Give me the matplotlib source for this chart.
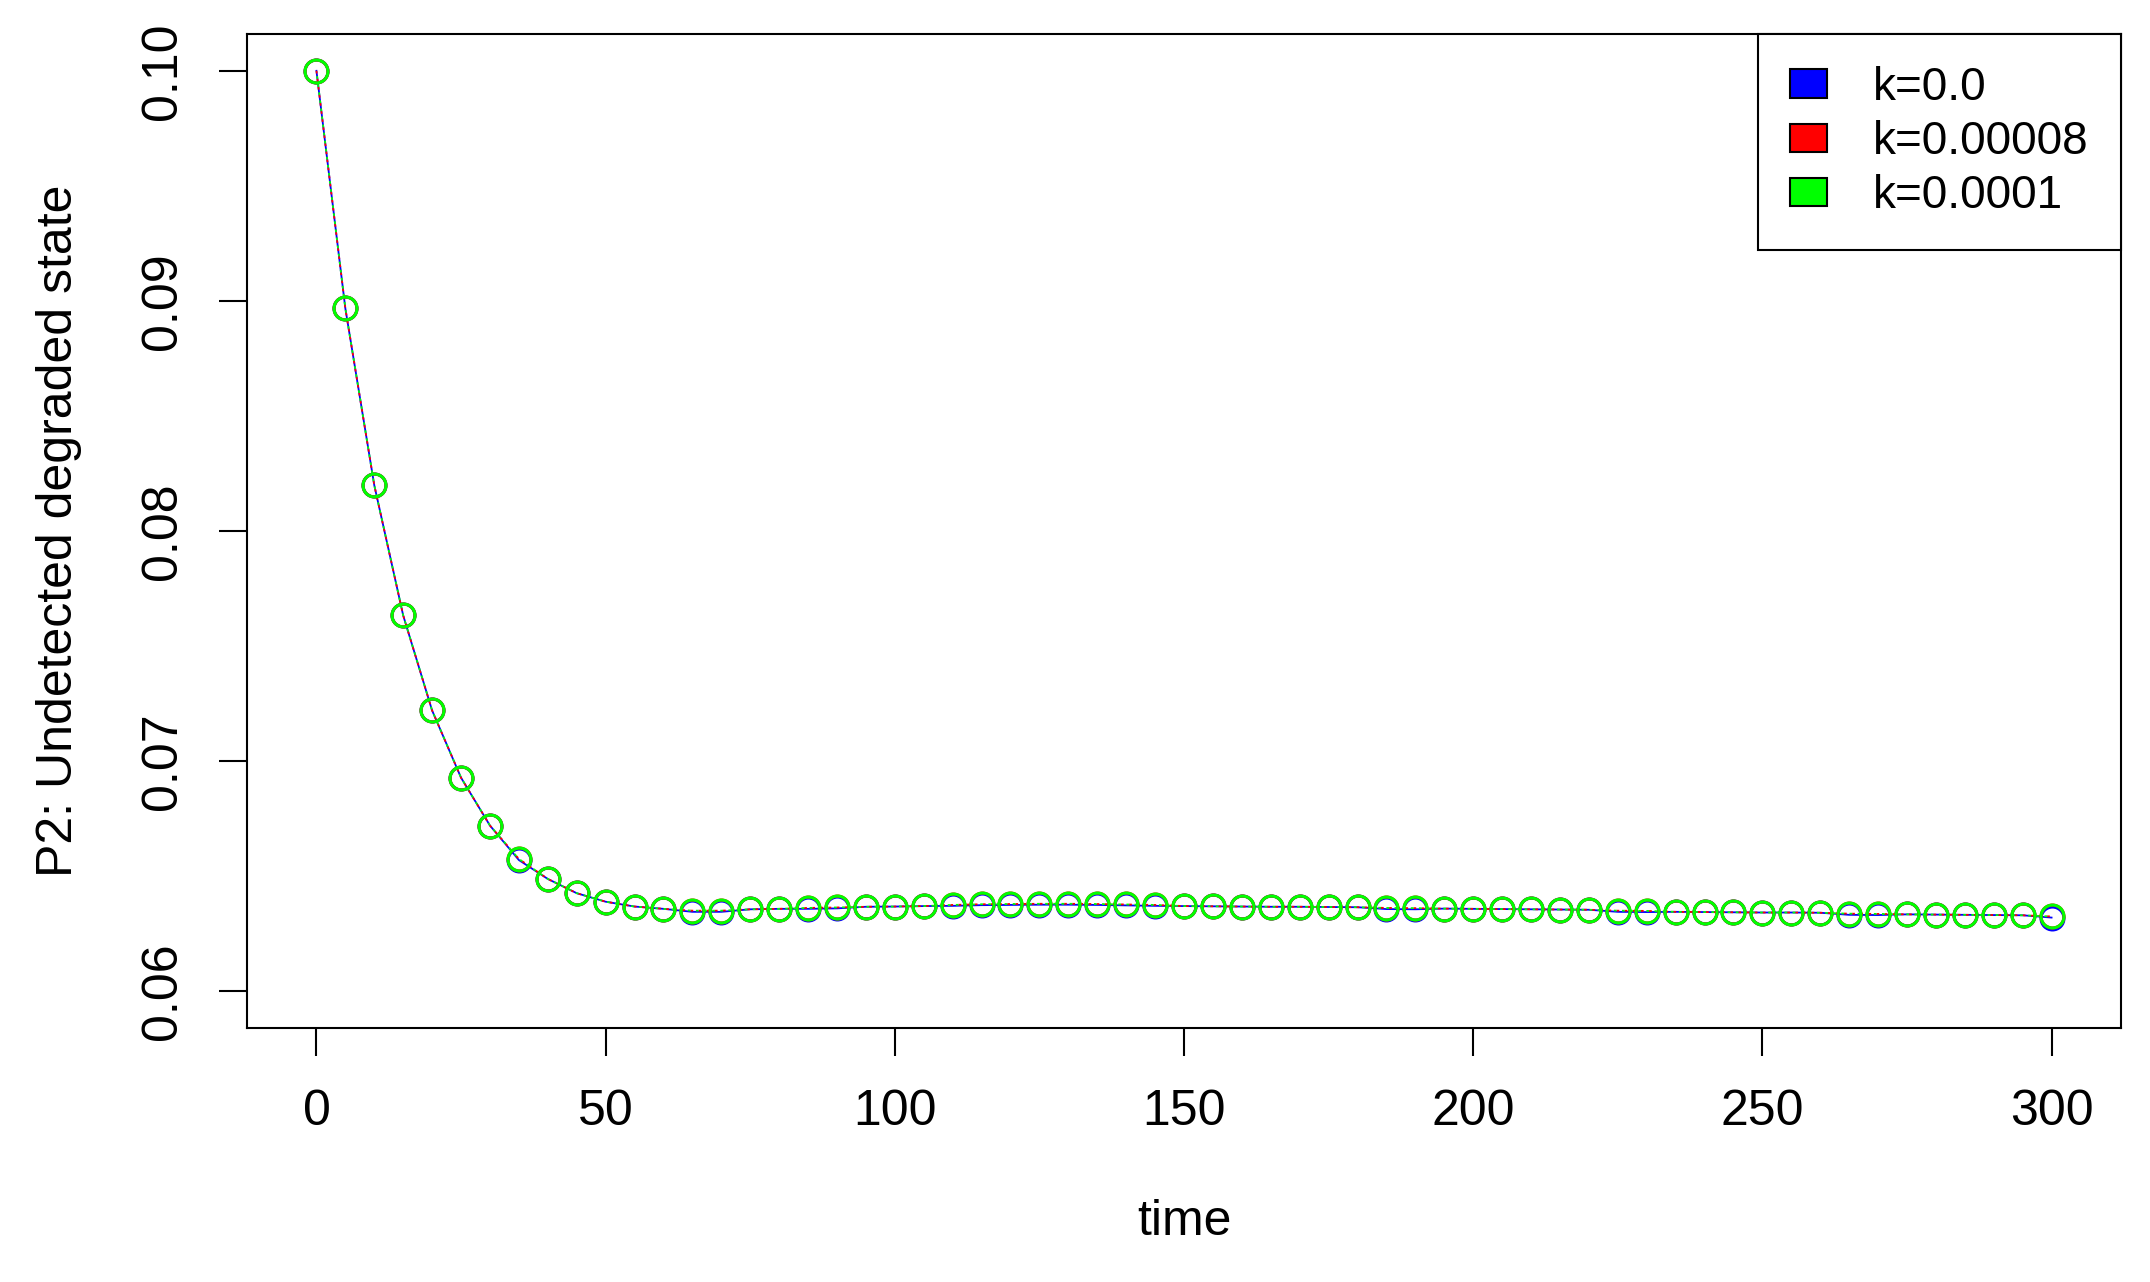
import numpy as np
import matplotlib
matplotlib.use('Agg')
import matplotlib.pyplot as plt
from matplotlib.patches import Patch

plt.rcParams['font.family'] = ['Liberation Sans', 'DejaVu Sans']

# time grid (every 5 units)
time = list(range(0, 301, 5))

# P2 values for k=0.0001 (green, drawn on top)
p2_green = [0.1000, 0.08967, 0.08199, 0.07633, 0.07220, 0.06928, 0.06720,
            0.06575, 0.06488, 0.06426, 0.06389, 0.06368, 0.06358, 0.06350,
            0.06350, 0.06356, 0.06358, 0.06362, 0.06364, 0.06367, 0.06368,
            0.06370, 0.06375, 0.06378, 0.06379, 0.06380, 0.06380, 0.06379,
            0.06377, 0.06375, 0.06370, 0.06369, 0.06368, 0.06367, 0.06367,
            0.06366, 0.06365, 0.06362, 0.06361, 0.06359, 0.06358, 0.06357,
            0.06356, 0.06355, 0.06354, 0.06350, 0.06349, 0.06345, 0.06344,
            0.06343, 0.06342, 0.06342, 0.06341, 0.06337, 0.06336, 0.06334,
            0.06333, 0.06332, 0.06331, 0.06330, 0.06325]

# k=0.00008 (red) sits under the green one everywhere
p2_red = [0.1000, 0.08967, 0.08199, 0.07633, 0.07220, 0.06928, 0.06720,
          0.06575, 0.06488, 0.06426, 0.06389, 0.06368, 0.06358, 0.06350,
          0.06350, 0.06356, 0.06358, 0.06362, 0.06364, 0.06367, 0.06368,
          0.06370, 0.06375, 0.06378, 0.06379, 0.06380, 0.06380, 0.06379,
          0.06377, 0.06375, 0.06370, 0.06369, 0.06368, 0.06367, 0.06367,
          0.06366, 0.06365, 0.06362, 0.06361, 0.06359, 0.06358, 0.06357,
          0.06356, 0.06355, 0.06354, 0.06350, 0.06349, 0.06345, 0.06344,
          0.06343, 0.06342, 0.06342, 0.06341, 0.06337, 0.06336, 0.06334,
          0.06333, 0.06332, 0.06331, 0.06330, 0.06325]

# k=0.0 (blue), peeks out slightly below at a few points
p2_blue = [0.1000, 0.08967, 0.08199, 0.07633, 0.07220, 0.06928, 0.06720,
           0.06570, 0.06488, 0.06426, 0.06389, 0.06368, 0.06358, 0.06345,
           0.06345, 0.06356, 0.06358, 0.06358, 0.06360, 0.06367, 0.06368,
           0.06370, 0.06371, 0.06374, 0.06375, 0.06376, 0.06376, 0.06375,
           0.06373, 0.06371, 0.06370, 0.06369, 0.06368, 0.06367, 0.06367,
           0.06366, 0.06365, 0.06357, 0.06356, 0.06359, 0.06358, 0.06357,
           0.06356, 0.06355, 0.06354, 0.06345, 0.06344, 0.06345, 0.06344,
           0.06343, 0.06342, 0.06342, 0.06341, 0.06332, 0.06331, 0.06334,
           0.06333, 0.06332, 0.06331, 0.06330, 0.06320]

legend_labels = ['k=0.0', 'k=0.00008', 'k=0.0001']
colors = ['#0000ff', '#ff0000', '#00ff00']

fig = plt.figure(figsize=(21.5, 12.82), dpi=100)
ax = fig.add_axes([0.1149, 0.1981, 0.8716, 0.7754])

mk = dict(marker='o', markersize=16.5, markerfacecolor='none', markeredgewidth=2.2)
ax.plot(time, p2_blue, color=colors[0], lw=1.3, **mk)
ax.plot(time, p2_red, color=colors[1], lw=1.3, linestyle=(0, (1.5, 3)), **mk)
ax.plot(time, p2_green, color=colors[2], lw=1.3, linestyle=(1.5, (1.5, 3)), **mk)

ax.set_xlim(-12, 312)
ax.set_ylim(0.0584, 0.1016)
ax.set_xticks([0, 50, 100, 150, 200, 250, 300])
ax.set_yticks([0.06, 0.07, 0.08, 0.09, 0.10])
ax.set_yticklabels(['0.06', '0.07', '0.08', '0.09', '0.10'], rotation=90, va='center')

ax.tick_params(axis='both', length=20, width=1.5, labelsize=36, pad=24, direction='out')
for s in ax.spines.values():
    s.set_linewidth(1.5)

ax.set_xlabel('time', fontsize=36, labelpad=46)
ax.set_ylabel('P2: Undetected degraded state', fontsize=36, labelpad=42)

handles = [Patch(facecolor=c, edgecolor='black', linewidth=1.5) for c in colors]
leg = ax.legend(handles, legend_labels, loc='upper right', fontsize=33,
                borderaxespad=0, fancybox=False, framealpha=1, edgecolor='black',
                handlelength=0.81, handleheight=0.59, handletextpad=1.0,
                borderpad=0.7, labelspacing=0.22)
leg.get_frame().set_linewidth(1.5)

fig.savefig('out.png', dpi=100)
